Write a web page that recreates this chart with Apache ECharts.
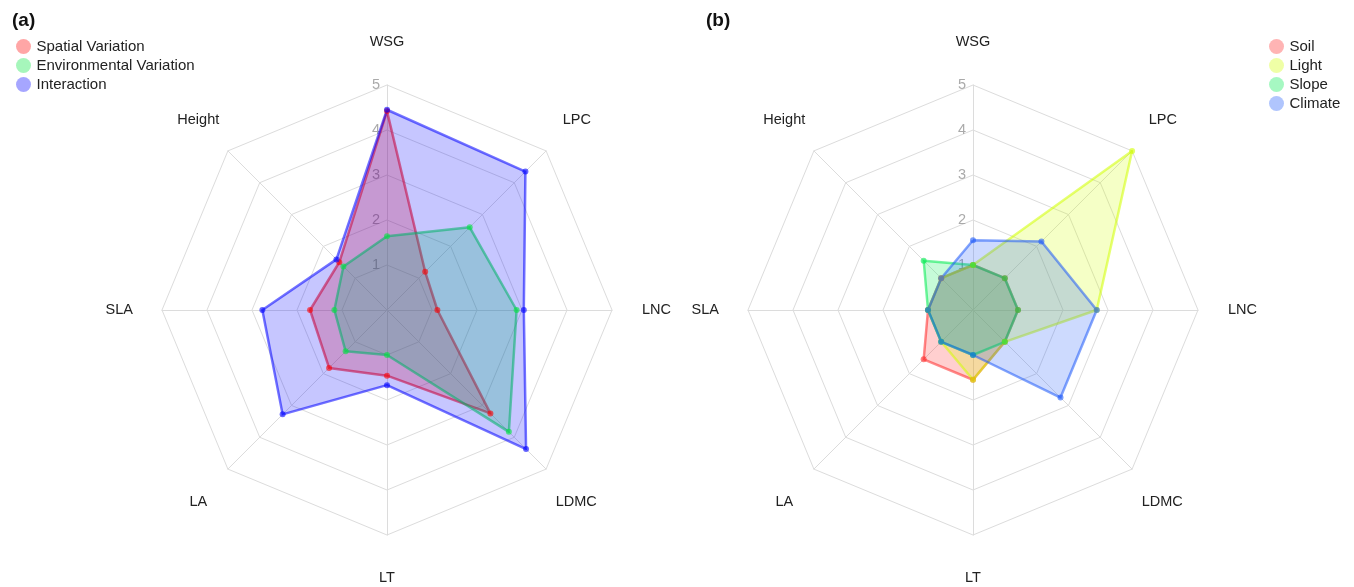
<!DOCTYPE html>
<html>
<head>
<meta charset="utf-8">
<script src="https://cdn.jsdelivr.net/npm/echarts@6/dist/echarts.min.js"></script>
<style>
  html, body { margin: 0; padding: 0; background: #fff; }
  #chart { width: 1354px; height: 587px; }
</style>
</head>
<body>
<div id="chart"></div>
<script>
// Traits, listed clockwise from the top axis
const traits = ['WSG', 'LPC', 'LNC', 'LDMC', 'LT', 'LA', 'SLA', 'Height'];
const scoreMax = 5;
const tickValues = [1, 2, 3, 4, 5];

// Panel (a): variance components
const panelANames = ['Spatial Variation', 'Environmental Variation', 'Interaction'];
const spatialVariation       = [4.42, 1.20, 1.12, 3.25, 1.46, 1.82, 1.71, 1.50];
const environmentalVariation = [1.64, 2.60, 2.88, 3.83, 1.00, 1.30, 1.17, 1.37];
const interaction            = [4.45, 4.35, 3.04, 4.37, 1.67, 3.28, 2.77, 1.59];

// Panel (b): environmental drivers
const panelBNames = ['Soil', 'Light', 'Slope', 'Climate'];
const soil    = [1.00, 1.00, 1.00, 1.00, 1.55, 1.55, 1.00, 1.00];
const light   = [1.00, 5.00, 2.75, 1.00, 1.55, 1.00, 1.00, 1.00];
const slope   = [1.00, 1.00, 1.00, 1.00, 1.00, 1.00, 1.00, 1.55];
const climate = [1.55, 2.15, 2.75, 2.75, 1.00, 1.00, 1.00, 1.00];

// ECharts lays radar indicators out counter-clockwise, so reverse all but the first
const ccw = arr => [arr[0]].concat(arr.slice(1).reverse());

const FONT = '"Liberation Sans", Arial, Helvetica, sans-serif';
const CENTERS = [[387, 310], [973, 310]];
const RADIUS = 225;
const NAME_GAP = 8;

// Per-direction label offsets (padding: top, right, bottom, left)
const namePadding = {
  WSG:    [0, 0, 28, 0],
  LPC:    [0, 0, 50, 11],
  LNC:    [0, 0, 0, 22],
  LDMC:   [54, 0, 0, 4],
  LT:     [27, 0, 0, 0],
  LA:     [54, 15, 0, 0],
  SLA:    [0, 21, 0, 0],
  Height: [0, 3, 50, 0]
};
const nameRich = {};
traits.forEach((t, i) => {
  nameRich['n' + i] = { fontSize: 14.5, color: '#222', fontFamily: FONT, padding: namePadding[t] };
});

function radarComponent(idx) {
  return {
    center: CENTERS[idx],
    radius: RADIUS,
    startAngle: 90,
    shape: 'polygon',
    splitNumber: 5,
    nameGap: NAME_GAP,
    indicator: ccw(traits).map(t => ({ name: t, min: 0, max: scoreMax })),
    axisName: {
      formatter: name => '{n' + traits.indexOf(name) + '|' + name + '}',
      rich: nameRich
    },
    axisLine: { lineStyle: { color: '#dcdcdc', width: 1 } },
    splitLine: { lineStyle: { color: '#dcdcdc', width: 1 } },
    splitArea: { show: false }
  };
}

function radarSeries(name, values, rgb, radarIndex) {
  return {
    type: 'radar',
    name: name,
    radarIndex: radarIndex,
    symbol: 'circle',
    symbolSize: 6,
    data: [{ name: name, value: ccw(values) }],
    itemStyle: { color: 'rgba(' + rgb + ',0.6)' },
    lineStyle: { color: 'rgba(' + rgb + ',0.55)', width: 2.5 },
    areaStyle: { color: 'rgba(' + rgb + ',0.32)' }
  };
}

const colorsA = ['255,0,0', '0,230,60', '0,0,255'];
const colorsB = ['255,40,40', '210,255,0', '0,235,80', '30,90,250'];
const valuesA = [spatialVariation, environmentalVariation, interaction];
const valuesB = [soil, light, slope, climate];

function legendData(names, colors) {
  return names.map((n, i) => ({ name: n, itemStyle: { color: 'rgba(' + colors[i] + ',0.35)' } }));
}

const legendCommon = {
  orient: 'vertical',
  icon: 'circle',
  itemWidth: 16,
  itemHeight: 15,
  itemGap: 4,
  selectedMode: false,
  textStyle: { fontSize: 15, color: '#222', fontFamily: FONT }
};

function tickAxis(idx) {
  return {
    polarIndex: idx,
    type: 'value',
    min: 0,
    max: scoreMax,
    interval: 1,
    z: 0,
    axisLine: { show: false },
    axisTick: { show: false },
    splitLine: { show: false },
    axisLabel: {
      show: true,
      margin: 7,
      color: '#aaa',
      fontSize: 14.5,
      fontFamily: FONT,
      formatter: v => (tickValues.indexOf(v) >= 0 ? String(v) : '')
    }
  };
}

const option = {
  backgroundColor: '#fff',
  animation: false,
  title: [
    { text: '(a)', left: 7, top: 6, textStyle: { fontSize: 19, fontWeight: 'bold', color: '#111', fontFamily: FONT } },
    { text: '(b)', left: 701, top: 6, textStyle: { fontSize: 19, fontWeight: 'bold', color: '#111', fontFamily: FONT } }
  ],
  legend: [
    Object.assign({}, legendCommon, { left: 11, top: 34, data: legendData(panelANames, colorsA) }),
    Object.assign({}, legendCommon, { left: 1264, top: 34, data: legendData(panelBNames, colorsB) })
  ],
  polar: [
    { center: CENTERS[0], radius: RADIUS },
    { center: CENTERS[1], radius: RADIUS }
  ],
  angleAxis: [
    { polarIndex: 0, type: 'value', min: 0, max: 360, startAngle: 90, show: false },
    { polarIndex: 1, type: 'value', min: 0, max: 360, startAngle: 90, show: false }
  ],
  radiusAxis: [tickAxis(0), tickAxis(1)],
  radar: [radarComponent(0), radarComponent(1)],
  series: []
    .concat(panelANames.map((n, i) => radarSeries(n, valuesA[i], colorsA[i], 0)))
    .concat(panelBNames.map((n, i) => radarSeries(n, valuesB[i], colorsB[i], 1)))
};

const chart = echarts.init(document.getElementById('chart'), null, { renderer: 'canvas' });
chart.setOption(option);
</script>
</body>
</html>
